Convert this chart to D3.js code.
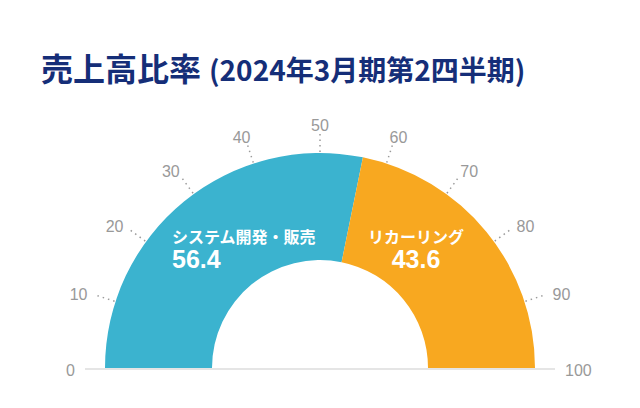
<!DOCTYPE html>
<html><head><meta charset="utf-8">
<script src="https://cdn.jsdelivr.net/npm/d3@7"></script>
<style>
html,body{margin:0;padding:0;background:#fff;}
svg{display:block;}
text{font-family:"Noto Sans CJK JP","Noto Sans",sans-serif;}
</style></head>
<body>
<svg id="chart" width="640" height="408"></svg>
<script>
const titleMain = "売上高比率";
const titleSub = "(2024年3月期第2四半期)";
const categories = ["システム開発・販売", "リカーリング"];
const values = [56.4, 43.6];
const colors = ["#3bb3cf", "#f8a820"];
const tickValues = [0,10,20,30,40,50,60,70,80,90,100];

const svg = d3.select("#chart");
const cx = 320, cy = 368, rOuter = 215, rInner = 108;

// title
const title = svg.append("text").attr("x", 41).attr("y", 81)
  .attr("fill", "#152e78").attr("font-weight", 700);
title.append("tspan").attr("font-size", 32).text(titleMain);
title.append("tspan").attr("font-size", 28).attr("dx", 8).text(titleSub);

const angle = d3.scaleLinear().domain([0,100]).range([-Math.PI/2, Math.PI/2]);

const g = svg.append("g").attr("transform", `translate(${cx},${cy})`);

// baseline
g.append("line").attr("x1", -235).attr("x2", 235).attr("y1", 1).attr("y2", 1)
  .attr("stroke", "#dddddd").attr("stroke-width", 1.5);

// arcs
let cum = 0;
const segs = values.map((v,i) => { const s = {start: cum, end: cum + v, value: v, name: categories[i], color: colors[i]}; cum += v; return s; });
const arc = d3.arc().innerRadius(rInner).outerRadius(rOuter);
g.selectAll("path.seg").data(segs).join("path").attr("class","seg")
  .attr("d", d => arc({startAngle: angle(d.start), endAngle: angle(d.end)}))
  .attr("fill", d => d.color);

// ticks
const tickR0 = rOuter + 1, tickR1 = 234, labelR = 245;
tickValues.forEach(t => {
  const a = angle(t);
  const sx = Math.sin(a), sy = -Math.cos(a);
  if (t !== 0 && t !== 100) {
    g.append("line")
      .attr("x1", sx*tickR0).attr("y1", sy*tickR0)
      .attr("x2", sx*tickR1).attr("y2", sy*tickR1)
      .attr("stroke", "#9a9a9a").attr("stroke-width", 1.5)
      .attr("stroke-dasharray", "1.5,4");
  }
  const txt = g.append("text").attr("font-size", 16).attr("fill", "#999999")
    .style("font-family", "'Liberation Sans', Arial, sans-serif")
    .attr("dominant-baseline", "central").text(t);
  const w = txt.node().getComputedTextLength();
  const px = sx*labelR, py = sy*labelR;
  const frac = (1 - sx)/2; // 1 => end, 0 => start
  txt.attr("x", px - w*frac).attr("y", py + 2);
});

// labels
const lab = [
  {x: -148, anchor: "start"},
  {x: 96, anchor: "middle"}
];
segs.forEach((d,i) => {
  g.append("text").attr("x", lab[i].x).attr("y", -125).attr("text-anchor", lab[i].anchor)
    .attr("fill", "#fff").attr("font-size", 16).attr("font-weight", 700).text(d.name);
  g.append("text").attr("x", lab[i].x).attr("y", -100).attr("text-anchor", lab[i].anchor)
    .attr("fill", "#fff").attr("font-size", 25).attr("font-weight", 700)
    .style("font-family", "'Liberation Sans', Arial, sans-serif")
    .text(d.value.toFixed(1));
});
</script>
</body></html>
